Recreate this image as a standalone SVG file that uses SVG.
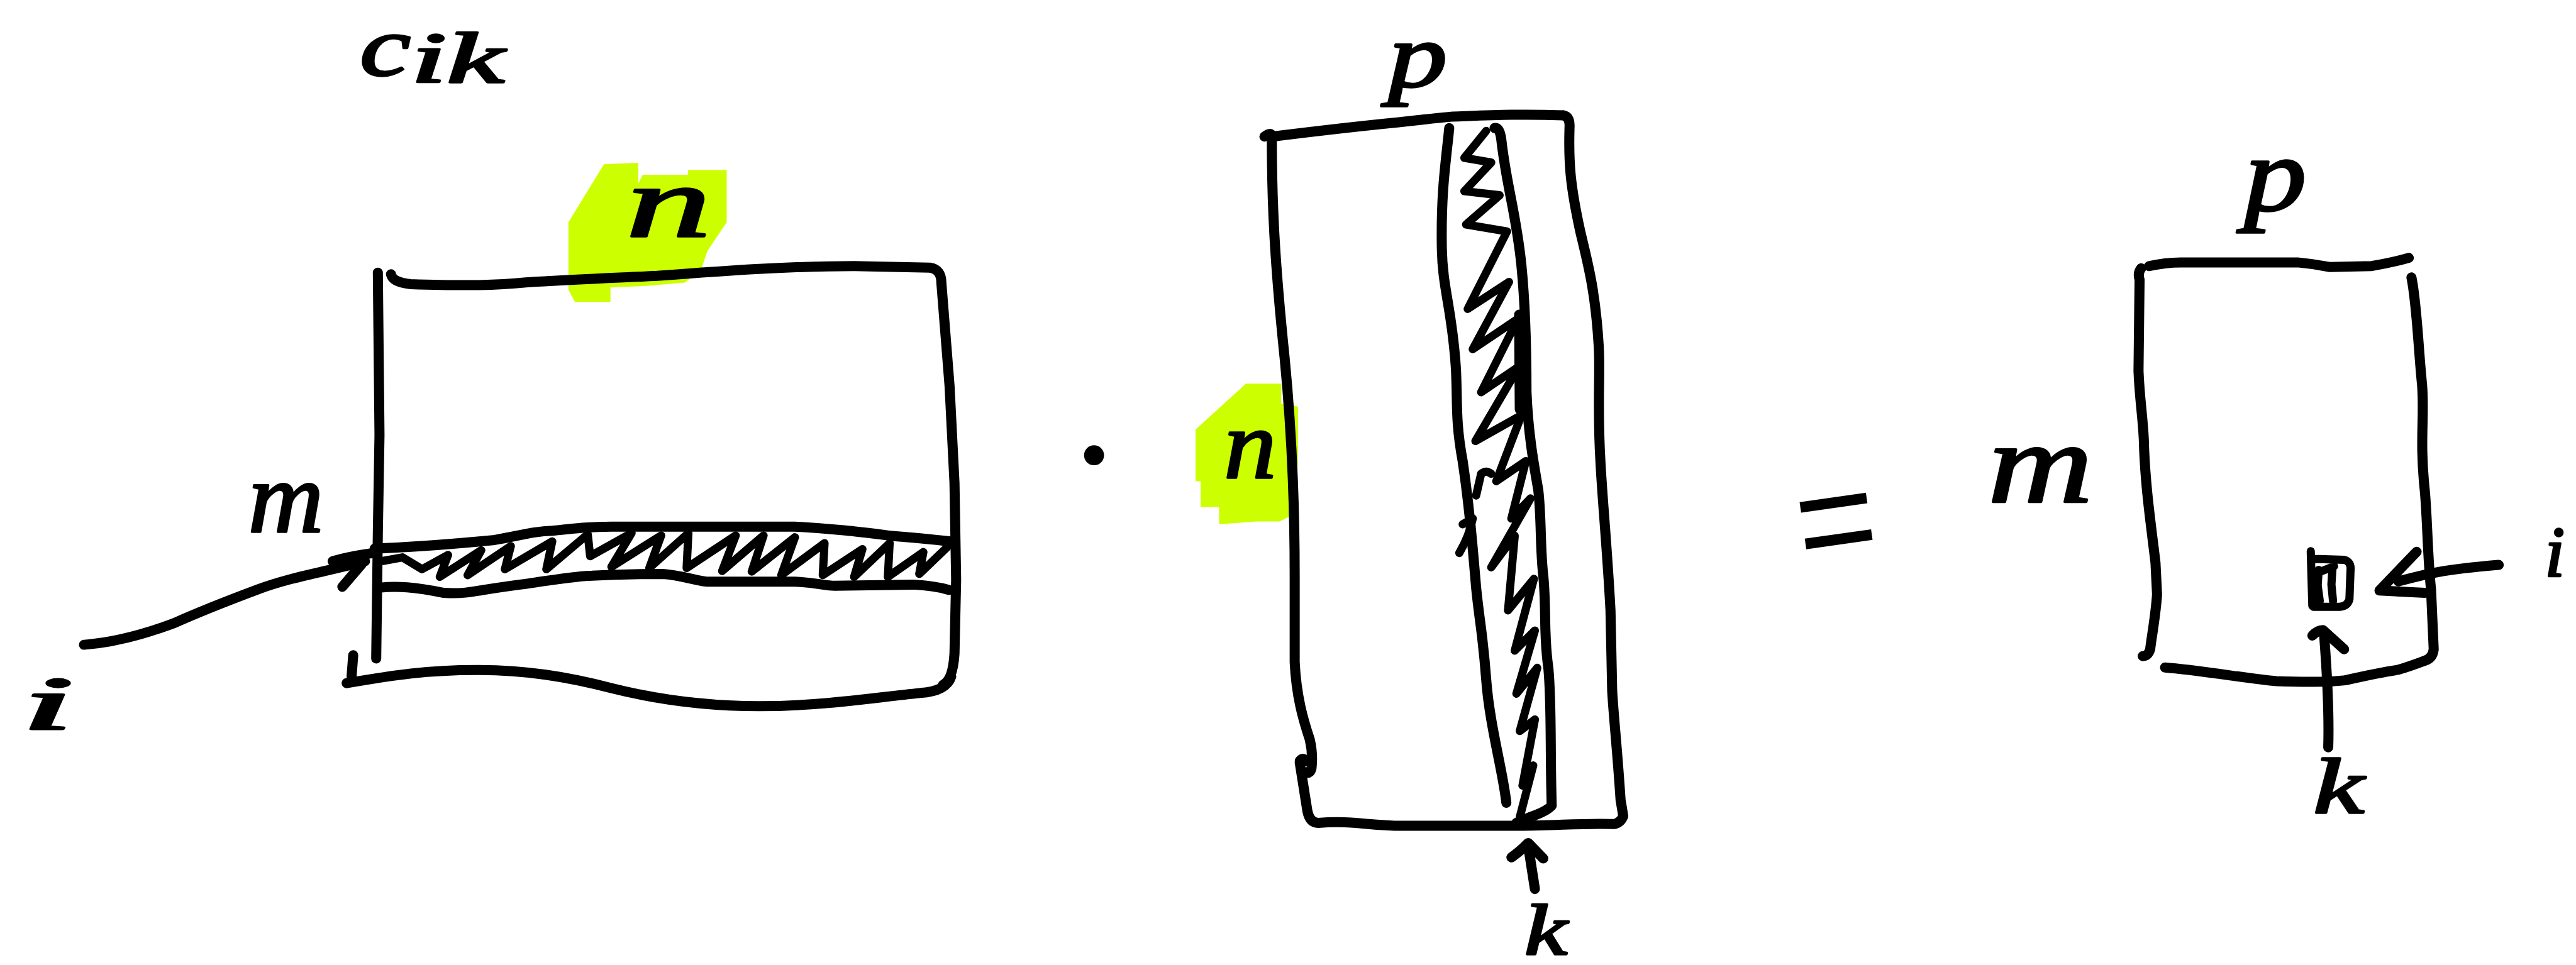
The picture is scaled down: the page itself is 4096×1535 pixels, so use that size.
<svg xmlns="http://www.w3.org/2000/svg" width="4096" height="1535" viewBox="0 0 4096 1535">
<style>
.s{fill:none;stroke:#000;stroke-width:16;stroke-linecap:round;stroke-linejoin:round;vector-effect:non-scaling-stroke}
.z{fill:none;stroke:#000;stroke-width:13;stroke-linecap:round;stroke-linejoin:round;vector-effect:non-scaling-stroke}
.hl{fill:#ccff00;stroke:none}
.t{font-family:"Liberation Serif","DejaVu Serif",serif;font-style:italic;fill:#000;stroke:#000;stroke-width:1.3;stroke-linejoin:round}
.op{font-family:"Liberation Sans","DejaVu Sans",sans-serif;fill:#000}
.dot{font-family:"Liberation Serif","DejaVu Serif",serif;font-weight:bold;fill:#000}
</style>
<rect width="4096" height="1535" fill="#fff"/>
<g transform="scale(2.6122)">
  <!-- highlights -->
  <g id="highlights">
    <path class="hl" transform="scale(0.3932,0.2941)" d="M880,460 L935,340 L988,337 L988,380 L995,362 L1065,362 L1065,352 L1125,352 L1125,460 L1095,520 L1085,560 L1060,585 L1000,592 L945,595 L945,625 L890,625 L880,600 Z"/>
    <path class="hl" transform="translate(720.6,36) scale(0.2045,0.3497)" d="M35,645 L185,565 L290,565 L290,600 L340,605 L340,700 L320,795 L285,805 L215,805 L105,810 L105,780 L50,780 L50,735 L35,735 Z"/>
  </g>

  <!-- left matrix A -->
  <g id="matrix-a">
    <path class="s" d="M230,166 L231,265 L230,324 L229,401"/>
    <path class="s" d="M238,167 Q239,172 250,173 C280,174 300,174 320,172 C350,170 380,169 400,168 C440,165 480,162 520,162 L566,163 Q573,164 573,172 L578,235 L581,294 L582,353 L581,398 Q580,414 574,417"/>
    <path class="s" d="M211,416 C240,411 260,408 290,408 C320,408 345,412 372,419 C400,426 430,430 462,430 C500,430 530,425 560,422 Q576,421 579,412"/>
    <path class="s" d="M215,399 L214,412"/>
    <g transform="scale(0.3603)">
      <path class="s" d="M633,927 C700,925 780,918 833,913 C880,905 900,898 933,897 C980,892 1000,890 1033,890 L1343,890 C1400,893 1420,896 1443,898 C1480,902 1500,905 1510,906 C1560,910 1590,913 1612,916"/>
      <path class="s" d="M643,993 C670,990 700,992 750,1002 C780,1004 800,1000 817,997 C860,990 880,988 900,985 C950,978 980,973 1000,973 C1050,970 1090,970 1120,970 C1150,972 1170,980 1193,983 L1343,983 C1380,985 1395,990 1410,990 L1543,988 Q1580,990 1603,997"/>
      <path class="z" d="M647,948 L680,942 L713,962 L757,938 L743,975 L813,930 L790,972 L863,923 L853,962 L933,915 L923,962 L993,903 L997,940 L1067,901 L1033,958 L1117,905 L1097,960 L1163,901 L1160,960 L1243,905 L1220,965 L1290,905 L1270,966 L1343,908 L1320,972 L1393,918 L1390,972 L1457,928 L1443,975 L1503,918 L1500,975 L1560,933 L1553,970 L1600,925"/>
    </g>
  </g>

  <!-- middle matrix B -->
  <g id="matrix-b" transform="translate(720.6,36) scale(0.2045,0.3497)">
    <path class="s" d="M240,135 Q255,128 262,132 M262,140 C262,250 270,350 300,520 C320,640 330,760 330,900 L330,1050 C335,1110 355,1150 375,1185 Q385,1210 380,1235 Q375,1245 365,1242"/>
    <path class="s" d="M345,1222 Q355,1215 362,1222"/>
    <path class="s" d="M345,1225 L368,1310 Q375,1330 400,1330 C500,1325 550,1335 650,1335 L1000,1335 C1100,1335 1200,1330 1280,1332 Q1300,1330 1308,1318 L1300,1290 C1290,1200 1280,1150 1275,1100 L1270,960 C1260,850 1245,760 1240,700 C1230,600 1240,550 1235,500 C1225,400 1200,350 1180,300 C1150,220 1145,180 1148,120 Q1150,100 1130,98"/>
    <path class="s" d="M262,135 C400,125 500,118 640,110 C720,105 760,102 800,100 C900,98 1000,95 1130,98"/>
    <path class="s" d="M790,120 C780,180 765,230 768,330 C770,400 800,440 810,540 C815,600 808,630 830,700 C850,780 860,850 870,920 C880,980 890,1000 900,1080 C910,1160 950,1240 960,1295"/>
    <path class="s" d="M925,120 Q940,118 945,140 C960,220 990,270 1005,360 C1015,420 1020,500 1020,580 C1025,650 1040,700 1055,750 C1065,800 1060,850 1070,900 C1080,960 1070,1000 1085,1060 C1095,1120 1090,1200 1095,1300 Q1080,1310 1030,1320 L990,1330"/>
    <path class="s" d="M998,445 L1000,610"/>
    <path class="z" d="M900,125 L835,172 L915,180 L835,230 L940,237 L840,288 L962,300 L845,435 L968,388 L860,505 L995,452 L885,580 L998,535 L868,665 L1005,620 L930,735 L1018,700 L975,800 L1032,765 L915,885 L985,830 L965,960 L1042,905 L985,1030 L1045,995 L990,1105 L1052,1060 L1000,1170 L1045,1150 L1008,1265 L1040,1230 L1000,1320"/>
    <path class="z" d="M820,860 Q850,830 860,800 M830,810 L860,800 M870,760 L885,722 Q900,715 915,722"/>
  </g>

  <!-- right matrix C -->
  <g id="matrix-c" transform="translate(1063,87) scale(0.3226,0.2778)">
    <path class="s" d="M745,275 Q738,285 742,300 L740,500 C742,560 748,600 750,650 C752,750 765,850 772,920 L775,990 C772,1040 765,1080 762,1110 Q758,1125 748,1125"/>
    <path class="s" d="M760,270 Q790,262 820,262 L1040,262 Q1070,265 1100,272 L1180,270 Q1220,262 1250,252"/>
    <path class="s" d="M1255,295 C1265,350 1268,450 1275,530 C1280,600 1270,650 1280,760 C1285,820 1285,900 1292,980 L1297,1110 Q1295,1130 1280,1135"/>
    <path class="s" d="M790,1150 C850,1155 950,1175 1000,1180 C1050,1182 1100,1182 1130,1178 C1180,1165 1200,1160 1230,1155 Q1250,1148 1280,1135"/>
    <path class="z" d="M1065,895 L1068,1015 M1072,912 L1128,914 Q1142,918 1140,938 L1138,1000 Q1135,1015 1120,1017 L1070,1017 M1072,945 L1109,928 M1080,936 L1078,970 L1082,1004 M1106,932 L1104,968 L1107,1004"/>
  </g>

  <!-- connectors -->
  <g id="connectors">
    <path class="s" transform="scale(0.3932,0.2941)" d="M130,1335 C180,1330 230,1310 270,1290 C320,1260 360,1240 400,1220 C450,1195 500,1185 565,1162 M515,1162 Q540,1152 578,1145 M530,1215 L560,1168"/>
    <path class="s" transform="translate(720.6,36) scale(0.2045,0.3497)" d="M975,1390 Q1000,1380 1025,1365 L1070,1392 M1025,1370 L1045,1445"/>
    <path class="s" d="M1471,336 L1448.4,359.6 L1476,361 M1460,354 C1475,350 1485,347 1521,344"/>
    <path class="s" transform="translate(1063,87) scale(0.3226,0.2778)" d="M1068,1080 Q1078,1068 1088,1068 L1128,1110 M1090,1075 C1095,1150 1100,1250 1098,1325"/>
  </g>

  <!-- labels -->
  <g id="labels">
    <text class="t" x="219" y="46" font-size="52" textLength="31" lengthAdjust="spacingAndGlyphs">c</text>
    <text class="t" x="250" y="50" font-size="44" textLength="57" lengthAdjust="spacingAndGlyphs">ik</text>
    <text class="t" x="381" y="144" font-size="62" textLength="52" lengthAdjust="spacingAndGlyphs">n</text>
    <text class="t" x="151" y="324" font-size="62" textLength="46" lengthAdjust="spacingAndGlyphs">m</text>
    <text class="t" x="13" y="444" font-size="46" textLength="32" lengthAdjust="spacingAndGlyphs">i</text>
    <text class="t" x="845" y="53" font-size="56" textLength="36" lengthAdjust="spacingAndGlyphs">p</text>
    <text class="t" x="745" y="291" font-size="60" textLength="32" lengthAdjust="spacingAndGlyphs">n</text>
    <text class="t" x="928" y="581" font-size="44" textLength="26" lengthAdjust="spacingAndGlyphs">k</text>
    <text class="t" x="1210" y="306" font-size="70" textLength="64" lengthAdjust="spacingAndGlyphs">m</text>
    <text class="t" x="1366" y="128" font-size="64" textLength="38" lengthAdjust="spacingAndGlyphs">p</text>
    <text class="t" x="1549" y="351" font-size="44">i</text>
    <text class="t" x="1408" y="495" font-size="48" textLength="31" lengthAdjust="spacingAndGlyphs">k</text>
    <text class="dot" x="666" y="302" font-size="75" text-anchor="middle">·</text>
    <text class="op" x="1093" y="347" font-size="90" textLength="49" lengthAdjust="spacingAndGlyphs" transform="rotate(-8 1117 316)">=</text>
  </g>
</g>
</svg>
